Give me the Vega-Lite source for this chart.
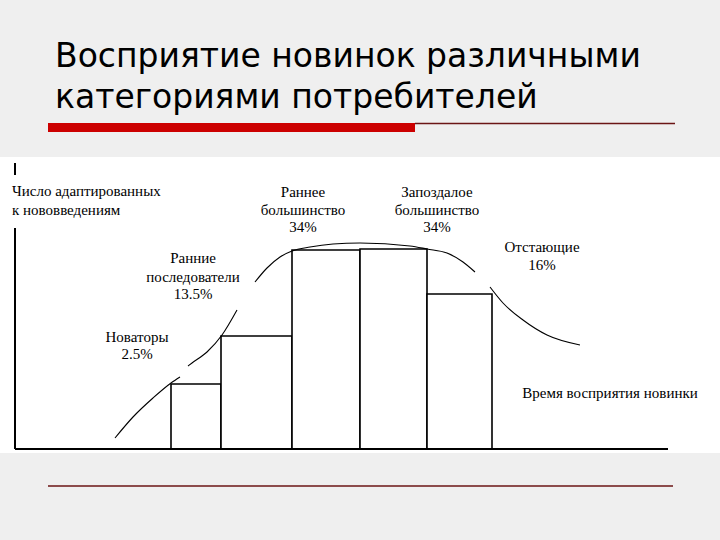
{
  "$schema": "https://vega.github.io/schema/vega-lite/v6.json",
  "width": 720,
  "height": 540,
  "autosize": {"type": "fit", "contains": "padding"},
  "padding": 0,
  "background": "#efefef",
  "config": {"view": {"stroke": null}},
  "datasets": {
    "panel": [{"x1": -15, "x2": 705, "y1": 292, "y2": -4}],
    "redbar": [{"x1": 33, "x2": 400, "y1": 326, "y2": 317}],
    "thin": [
      {"x1": 400, "x2": 660, "y": 325.5},
      {"x1": 33, "x2": 658, "y": -37}
    ],
    "axes": [
      {"x1": 0, "x2": 0, "y1": 286, "y2": 274},
      {"x1": 0, "x2": 0, "y1": 221, "y2": 0},
      {"x1": 0, "x2": 653, "y1": 0, "y2": 0}
    ],
    "bars": [
      {"cat": "Новаторы", "start": 156, "end": 206, "h": 65},
      {"cat": "Ранние последователи", "start": 206, "end": 277, "h": 113},
      {"cat": "Раннее большинство", "start": 277, "end": 345, "h": 199},
      {"cat": "Запоздалое большинство", "start": 345, "end": 412, "h": 200},
      {"cat": "Отстающие", "start": 412, "end": 477, "h": 155}
    ],
    "curve": [
      {"seg": 1, "t": 100, "v": 11},
      {"seg": 1, "t": 118, "v": 32},
      {"seg": 1, "t": 138, "v": 51},
      {"seg": 1, "t": 156, "v": 66},
      {"seg": 1, "t": 165, "v": 72},
      {"seg": 2, "t": 173, "v": 83},
      {"seg": 2, "t": 177, "v": 86},
      {"seg": 2, "t": 192, "v": 97},
      {"seg": 2, "t": 207, "v": 114},
      {"seg": 2, "t": 222, "v": 139},
      {"seg": 3, "t": 240, "v": 167},
      {"seg": 3, "t": 252, "v": 181},
      {"seg": 3, "t": 265, "v": 192},
      {"seg": 3, "t": 277, "v": 198},
      {"seg": 3, "t": 295, "v": 202},
      {"seg": 3, "t": 318, "v": 205},
      {"seg": 3, "t": 345, "v": 206},
      {"seg": 3, "t": 395, "v": 203},
      {"seg": 3, "t": 412, "v": 200},
      {"seg": 3, "t": 432, "v": 196},
      {"seg": 3, "t": 448, "v": 187},
      {"seg": 3, "t": 460, "v": 177},
      {"seg": 4, "t": 475, "v": 162},
      {"seg": 4, "t": 488, "v": 146},
      {"seg": 4, "t": 508, "v": 129},
      {"seg": 4, "t": 532, "v": 114},
      {"seg": 4, "t": 565, "v": 104}
    ],
    "labels": [
      {"text": "Раннее", "x": 288, "y": 257},
      {"text": "большинство", "x": 288, "y": 239},
      {"text": "34%", "x": 288, "y": 222},
      {"text": "Запоздалое", "x": 422, "y": 257},
      {"text": "большинство", "x": 422, "y": 239},
      {"text": "34%", "x": 422, "y": 222},
      {"text": "Ранние", "x": 178, "y": 191},
      {"text": "последователи", "x": 178, "y": 172},
      {"text": "13.5%", "x": 178, "y": 155},
      {"text": "Новаторы", "x": 122, "y": 112},
      {"text": "2.5%", "x": 122, "y": 95},
      {"text": "Отстающие", "x": 527, "y": 202},
      {"text": "16%", "x": 527, "y": 184},
      {"text": "Время восприятия новинки", "x": 595, "y": 56}
    ],
    "leftlabels": [
      {"text": "Число адаптированных", "x": -3, "y": 258},
      {"text": "к нововведениям", "x": -3, "y": 239}
    ],
    "title": [
      {"text": "Восприятие новинок различными", "x": 40, "y": 382},
      {"text": "категориями потребителей", "x": 40, "y": 341}
    ]
  },
  "layer": [
    {
      "data": {"name": "panel"},
      "mark": {"type": "rect", "fill": "white"},
      "encoding": {
        "x": {"field": "x1", "type": "quantitative", "scale": {"domain": [-15, 705], "nice": false, "zero": false}, "axis": null},
        "x2": {"field": "x2"},
        "y": {"field": "y1", "type": "quantitative", "scale": {"domain": [-91, 449], "nice": false, "zero": false}, "axis": null},
        "y2": {"field": "y2"}
      }
    },
    {
      "data": {"name": "redbar"},
      "mark": {"type": "rect", "fill": "#cc0000"},
      "encoding": {
        "x": {"field": "x1", "type": "quantitative", "scale": {"domain": [-15, 705], "nice": false, "zero": false}, "axis": null},
        "x2": {"field": "x2"},
        "y": {"field": "y1", "type": "quantitative", "scale": {"domain": [-91, 449], "nice": false, "zero": false}, "axis": null},
        "y2": {"field": "y2"}
      }
    },
    {
      "data": {"name": "thin"},
      "mark": {"type": "rule", "stroke": "#6b1515", "strokeWidth": 1.5},
      "encoding": {
        "x": {"field": "x1", "type": "quantitative", "scale": {"domain": [-15, 705], "nice": false, "zero": false}, "axis": null},
        "x2": {"field": "x2"},
        "y": {"field": "y", "type": "quantitative", "scale": {"domain": [-91, 449], "nice": false, "zero": false}, "axis": null}
      }
    },
    {
      "data": {"name": "bars"},
      "mark": {"type": "rect", "fill": "white", "stroke": "black", "strokeWidth": 1.6},
      "encoding": {
        "x": {"field": "start", "type": "quantitative", "scale": {"domain": [-15, 705], "nice": false, "zero": false}, "axis": null},
        "x2": {"field": "end"},
        "y": {"field": "h", "type": "quantitative", "scale": {"domain": [-91, 449], "nice": false, "zero": false}, "axis": null},
        "y2": {"datum": 0}
      }
    },
    {
      "data": {"name": "axes"},
      "mark": {"type": "rule", "stroke": "black", "strokeWidth": 2},
      "encoding": {
        "x": {"field": "x1", "type": "quantitative", "scale": {"domain": [-15, 705], "nice": false, "zero": false}, "axis": null},
        "x2": {"field": "x2"},
        "y": {"field": "y1", "type": "quantitative", "scale": {"domain": [-91, 449], "nice": false, "zero": false}, "axis": null},
        "y2": {"field": "y2"}
      }
    },
    {
      "data": {"name": "curve"},
      "mark": {"type": "line", "stroke": "black", "strokeWidth": 1.1, "interpolate": "monotone"},
      "encoding": {
        "x": {"field": "t", "type": "quantitative", "scale": {"domain": [-15, 705], "nice": false, "zero": false}, "axis": null},
        "y": {"field": "v", "type": "quantitative", "scale": {"domain": [-91, 449], "nice": false, "zero": false}, "axis": null},
        "detail": {"field": "seg", "type": "nominal"}
      }
    },
    {
      "data": {"name": "labels"},
      "mark": {"type": "text", "font": "Liberation Serif", "fontSize": 15, "align": "center", "baseline": "middle", "color": "black"},
      "encoding": {
        "x": {"field": "x", "type": "quantitative", "scale": {"domain": [-15, 705], "nice": false, "zero": false}, "axis": null},
        "y": {"field": "y", "type": "quantitative", "scale": {"domain": [-91, 449], "nice": false, "zero": false}, "axis": null},
        "text": {"field": "text"}
      }
    },
    {
      "data": {"name": "leftlabels"},
      "mark": {"type": "text", "font": "Liberation Serif", "fontSize": 15, "align": "left", "baseline": "middle", "color": "black"},
      "encoding": {
        "x": {"field": "x", "type": "quantitative", "scale": {"domain": [-15, 705], "nice": false, "zero": false}, "axis": null},
        "y": {"field": "y", "type": "quantitative", "scale": {"domain": [-91, 449], "nice": false, "zero": false}, "axis": null},
        "text": {"field": "text"}
      }
    },
    {
      "data": {"name": "title"},
      "mark": {"type": "text", "font": "DejaVu Sans", "fontSize": 33, "align": "left", "baseline": "alphabetic", "color": "black"},
      "encoding": {
        "x": {"field": "x", "type": "quantitative", "scale": {"domain": [-15, 705], "nice": false, "zero": false}, "axis": null},
        "y": {"field": "y", "type": "quantitative", "scale": {"domain": [-91, 449], "nice": false, "zero": false}, "axis": null},
        "text": {"field": "text"}
      }
    }
  ]
}
